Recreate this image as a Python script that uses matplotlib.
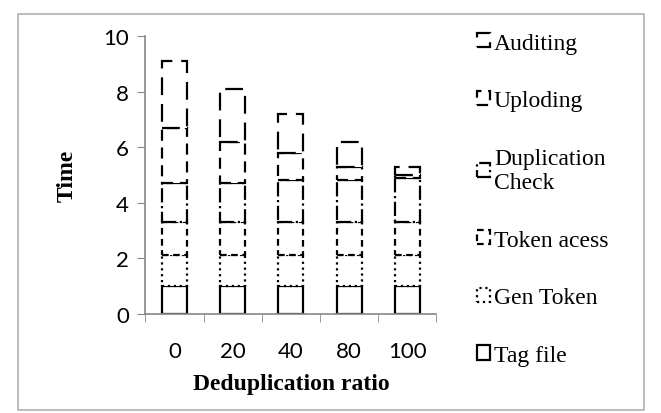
import numpy as np
import matplotlib.pyplot as plt
from matplotlib.patches import Rectangle

# deduplication ratio categories and per-step times (stacked)
ratios = ["0", "20", "40", "80", "100"]
tag_file = [1.0, 1.0, 1.0, 1.0, 1.0]
gen_token = [1.1, 1.1, 1.1, 1.1, 1.1]
token_acess = [1.2, 1.2, 1.2, 1.2, 1.2]
dup_check = [1.4, 1.4, 1.5, 1.5, 1.6]
uploding = [2.0, 1.5, 1.0, 0.5, 0.1]
auditing = [2.4, 1.9, 1.4, 0.9, 0.3]

series = [
    ("Tag file", tag_file, "-"),
    ("Gen Token", gen_token, ":"),
    ("Token acess", token_acess, (0, (3, 2))),
    ("Duplication\nCheck", dup_check, "-."),
    ("Uploding", uploding, (0, (5, 3))),
    ("Auditing", auditing, (0, (8, 4))),
]

fig = plt.figure(figsize=(6.61, 4.14), dpi=100)
fig.patches.append(Rectangle((0.027, 0.008), 0.948, 0.955, transform=fig.transFigure,
                             fill=False, edgecolor="#b0b0b0", lw=1.2))

ax = fig.add_axes([0.22, 0.24, 0.44, 0.67])
x = np.arange(len(ratios))
bottom = np.zeros(len(ratios))
handles = []
for name, vals, ls in series:
    bars = ax.bar(x, vals, 0.43, bottom=bottom, facecolor="white", edgecolor="black",
                  linestyle=ls, linewidth=1.6, label=name)
    handles.append(bars)
    bottom += np.array(vals)

ax.set_xlim(-0.5, 4.5)
ax.set_ylim(0, 10)
ax.set_yticks([0, 2, 4, 6, 8, 10])
ax.set_xticks(x)
ax.set_xticklabels(ratios, family="Lato")
ax.set_yticklabels([str(v) for v in [0, 2, 4, 6, 8, 10]], family="Lato")
ax.set_xticks(np.arange(-0.5, 5, 1), minor=True)
ax.tick_params(axis="x", which="major", length=0, labelsize=16, pad=20)
ax.tick_params(axis="x", which="minor", length=6, color="#888888")
ax.tick_params(axis="y", length=6, color="#888888", labelsize=16, pad=6)
for s in ["top", "right"]:
    ax.spines[s].set_visible(False)
for s in ["left", "bottom"]:
    ax.spines[s].set_color("#888888")
    ax.spines[s].set_linewidth(1.2)

ax.set_xlabel("Deduplication ratio", family="Liberation Serif", fontweight="bold",
              fontsize=17, labelpad=8)
ax.set_ylabel("Time", family="Liberation Serif", fontweight="bold", fontsize=17,
              labelpad=18)

fig.legend(handles[::-1], [s[0] for s in series][::-1], loc="upper left",
           bbox_to_anchor=(0.69, 0.97), frameon=False, handlelength=0.55,
           handleheight=0.55, handletextpad=0.15, labelspacing=1.55,
           prop={"family": "Liberation Serif", "size": 17})

fig.savefig("out.png", dpi=100)
